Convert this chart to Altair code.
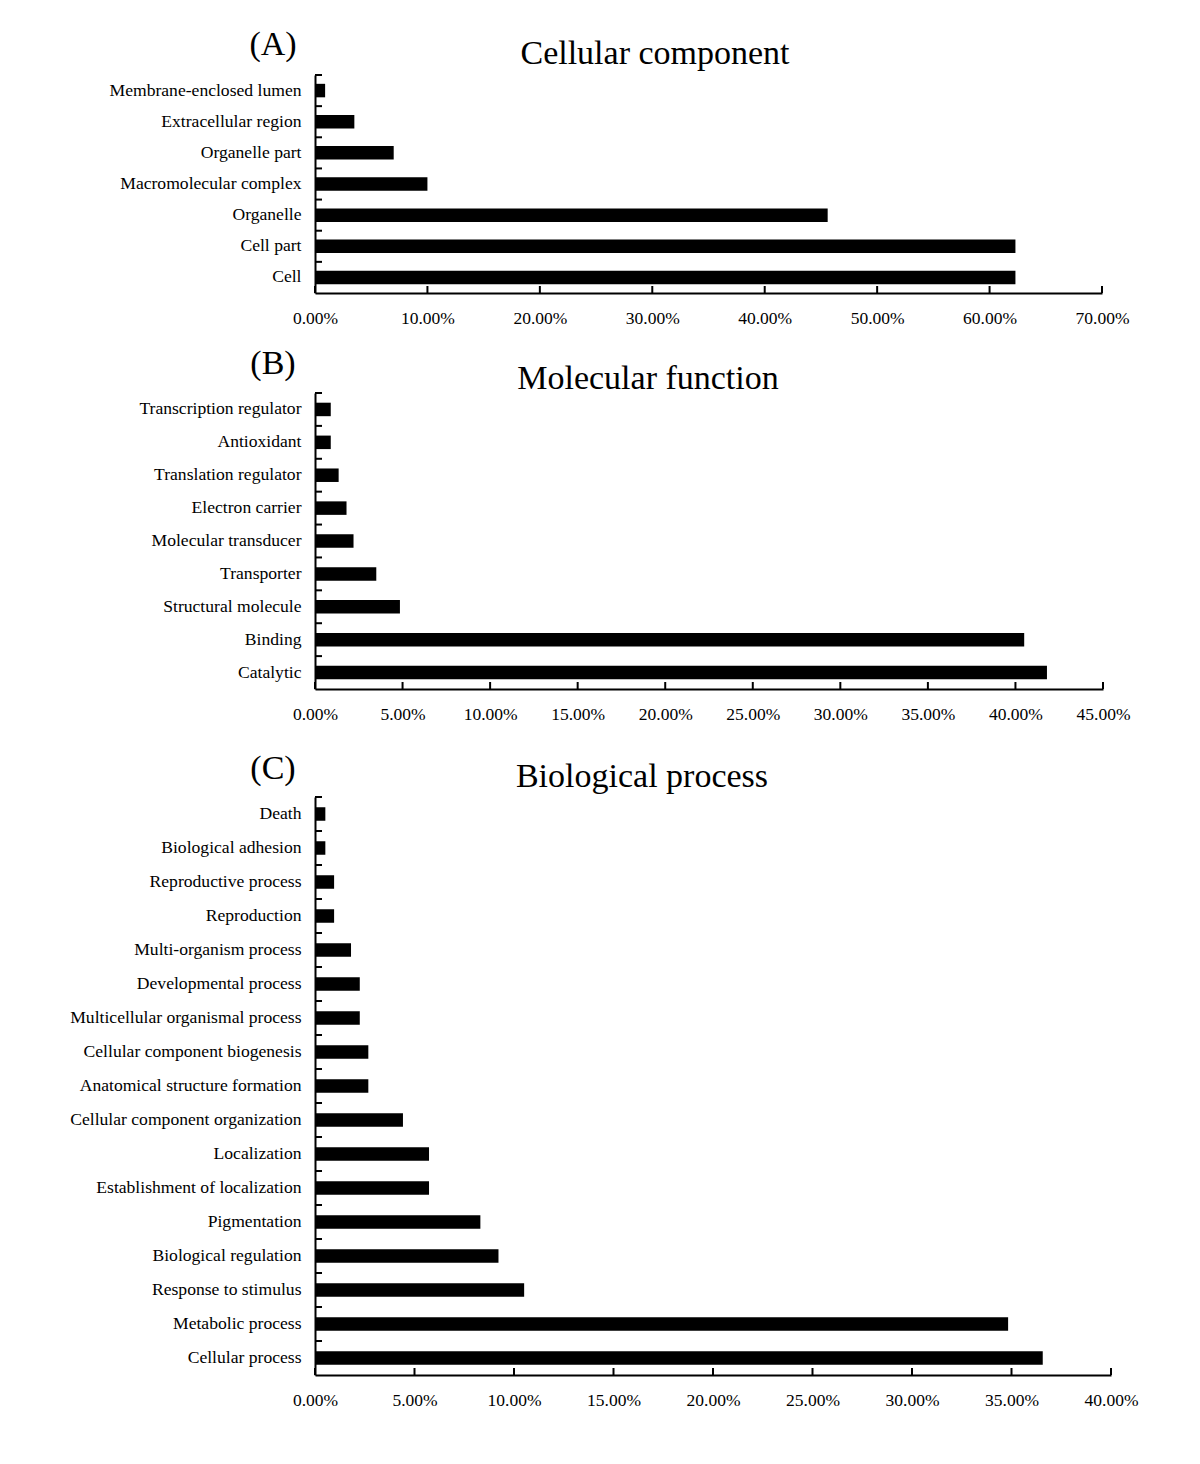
import altair as alt
import pandas as pd

FONT = "Liberation Serif"

cc_labels = ["Membrane-enclosed lumen", "Extracellular region", "Organelle part",
             "Macromolecular complex", "Organelle", "Cell part", "Cell"]
cc_values = [0.009, 0.035, 0.070, 0.100, 0.456, 0.623, 0.623]
cc_ticks = [0.0, 0.1, 0.2, 0.3, 0.4, 0.5, 0.6, 0.7]

mf_labels = ["Transcription regulator", "Antioxidant", "Translation regulator",
             "Electron carrier", "Molecular transducer", "Transporter",
             "Structural molecule", "Binding", "Catalytic"]
mf_values = [0.009, 0.009, 0.0135, 0.018, 0.022, 0.035, 0.0485, 0.405, 0.418]
mf_ticks = [0.0, 0.05, 0.10, 0.15, 0.20, 0.25, 0.30, 0.35, 0.40, 0.45]

bp_labels = ["Death", "Biological adhesion", "Reproductive process", "Reproduction",
             "Multi-organism process", "Developmental process",
             "Multicellular organismal process", "Cellular component biogenesis",
             "Anatomical structure formation", "Cellular component organization",
             "Localization", "Establishment of localization", "Pigmentation",
             "Biological regulation", "Response to stimulus", "Metabolic process",
             "Cellular process"]
bp_values = [0.0052, 0.0052, 0.0096, 0.0096, 0.0181, 0.0225, 0.0225, 0.0268, 0.0268,
             0.0442, 0.0573, 0.0573, 0.0831, 0.0922, 0.1051, 0.3483, 0.3657]
bp_ticks = [0.0, 0.05, 0.10, 0.15, 0.20, 0.25, 0.30, 0.35, 0.40]


def panel(labels, values, ticks, width, height, title, letter, head_x, head_y,
          letter_y, spacer=0):
    df = pd.DataFrame({"cat": labels, "val": values})
    xscale = alt.Scale(domain=[ticks[0], ticks[-1]], nice=False, zero=True)
    yscale = alt.Scale(paddingInner=0, paddingOuter=0)
    xaxis_kw = dict(values=ticks, format=".2%", ticks=False, grid=False,
                    labelFontSize=17.5, labelFont=FONT, labelColor="black", labelPadding=16,
                    domainWidth=2, domainColor="black", labelFlush=False)
    if spacer:
        xaxis = alt.Axis(title=".", titleOpacity=0, titleFontSize=spacer, titlePadding=0,
                         **xaxis_kw)
    else:
        xaxis = alt.Axis(title=None, **xaxis_kw)
    yaxis = alt.Axis(title=None, ticks=False, grid=False, labelFontSize=17.6, labelFont=FONT,
                     labelColor="black", labelPadding=14, labelLimit=0,
                     domainWidth=2, domainColor="black")
    bars = alt.Chart(df).mark_bar(size=13.5, color="black").encode(
        x=alt.X("val:Q", scale=xscale, axis=xaxis),
        y=alt.Y("cat:N", sort=labels, scale=yscale, axis=yaxis),
    )
    ytick = alt.Chart(df).mark_rule(strokeWidth=2, color="black").encode(
        y=alt.Y("cat:N", sort=labels, bandPosition=0, scale=yscale, axis=yaxis),
        x=alt.value(0), x2=alt.value(7),
    )
    xtick = alt.Chart(pd.DataFrame({"val": ticks})).mark_rule(strokeWidth=2, color="black").encode(
        x=alt.X("val:Q", scale=xscale, axis=xaxis),
        y=alt.value(height - 7), y2=alt.value(height),
    )
    lab = alt.Chart(pd.DataFrame({"t": [letter]})).mark_text(
        fontSize=34, font=FONT, align="center", baseline="middle", color="black"
    ).encode(text="t:N", x=alt.value(-42), y=alt.value(letter_y))
    head = alt.Chart(pd.DataFrame({"t": [title]})).mark_text(
        fontSize=34, font=FONT, align="center", baseline="middle", color="black"
    ).encode(text="t:N", x=alt.value(head_x), y=alt.value(head_y))
    return alt.layer(bars, ytick, xtick, lab, head).properties(width=width, height=height)


a = panel(cc_labels, cc_values, cc_ticks, 787, 218, "Cellular component", "(A)", 340, -21, -30)
b = panel(mf_labels, mf_values, mf_ticks, 788, 296, "Molecular function", "(B)", 333, -14, -29,
          spacer=9)
c = panel(bp_labels, bp_values, bp_ticks, 796, 578, "Biological process", "(C)", 327, -20, -28)

chart = alt.vconcat(a, b, c, spacing=20).properties(
    padding={"left": 61, "top": 20, "right": 5, "bottom": 5}
).configure_view(stroke=None)

chart.save("out.html", embed_options={"renderer": "svg", "actions": False})
